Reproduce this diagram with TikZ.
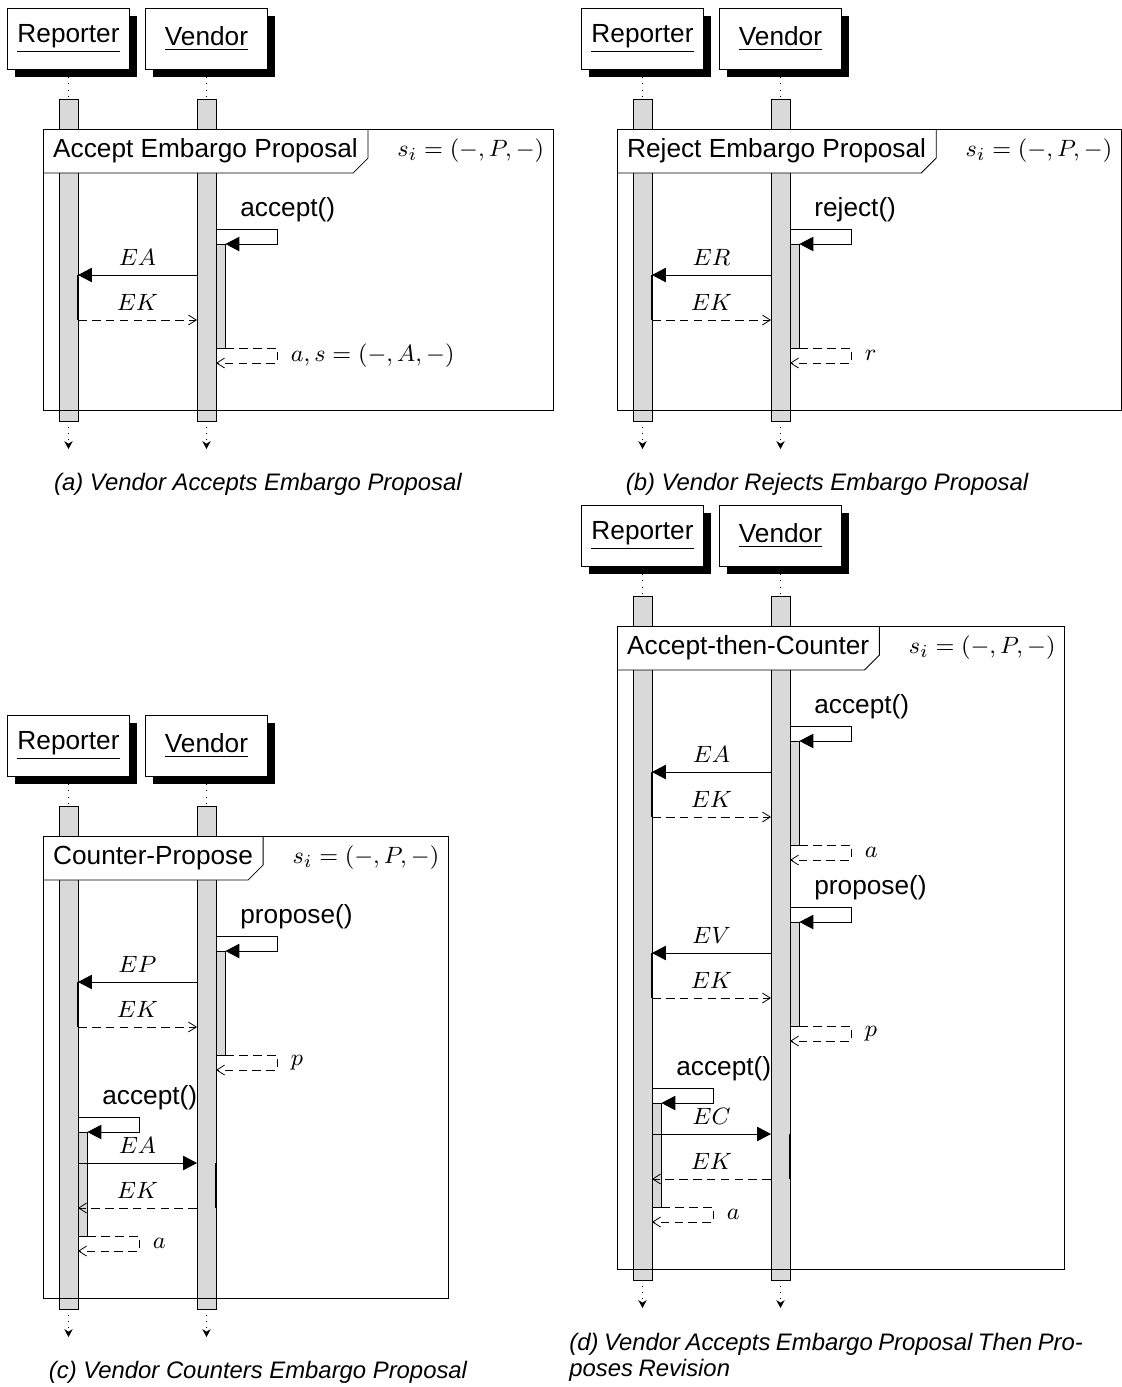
\documentclass[tikz,border=0pt]{standalone}
\usepackage{fontspec}
\setsansfont{Liberation Sans}
\usetikzlibrary{arrows.meta,calc,shadows}
\definecolor{barg}{gray}{0.85}
\tikzset{
  sans/.style={font=\fontsize{10}{12}\selectfont\sffamily},
  mth/.style={font=\fontsize{9.4}{11}\selectfont},
  headbox/.style={draw, fill=white, sans, minimum width=46.5pt, minimum height=23.3pt, inner sep=0pt,
    general shadow={fill=black, shadow xshift=2.86pt, shadow yshift=-3.05pt}},
  lifebar/.style={draw, fill=barg, minimum width=7.25pt, inner sep=0pt, outer sep=0pt},
  actblk/.style={draw, fill=barg, minimum width=3.6pt, minimum height=39.67pt, inner sep=0pt, outer sep=0pt},
  lifedot/.style={dotted},
  endtip/.style={-{Stealth[length=3pt,width=3.2pt]}},
  callarr/.style={-{Triangle[length=5.3pt,width=5.5pt]}},
  solidmsg/.style={-{Triangle[length=5.3pt,width=5.5pt]}},
  dashmsg/.style={dash pattern=on 3.3pt off 2pt, -{Straight Barb[length=3pt,width=3.8pt]}},
  recvedge/.style={line width=0.5pt},
  titlebox/.style={fill=white, sans, anchor=north west, minimum height=16.8pt, inner xsep=3.9pt, inner ysep=0pt, outer sep=0pt},
  capt/.style={font=\fontsize{9.1}{10}\selectfont\sffamily\itshape, inner sep=0pt},
  captd/.style={font={\fontsize{9.1}{10}\selectfont\sffamily\itshape\spaceskip 2.1pt\relax}, inner sep=0pt},
}
% #1 prefix, #2 title, #3 frame bottom (relative y)
\newcommand\seqpanel[3]{%
  \pgfmathsetmacro\barh{(#3+11-99)*0.3814}%
  \node[headbox] (#1rep) at (68.5,38.5) {\underline{Reporter}};
  \node[headbox] (#1ven) at (206.5,38.5) {\underline{Vendor}};
  \node[lifebar, minimum height=\barh pt, anchor=north] (#1rb) at (68.5,99) {};
  \node[lifebar, minimum height=\barh pt, anchor=north] (#1vb) at (206.5,99) {};
  \draw[lifedot] ($(#1rep.south)+(0,8)$) -- (#1rb.north);
  \draw[lifedot] ($(#1ven.south)+(0,8)$) -- (#1vb.north);
  \draw[lifedot, endtip] (#1rb.south) -- ++(0,28);
  \draw[lifedot, endtip] (#1vb.south) -- ++(0,28);
  \node[titlebox] (#1t) at (43,129) {#2};
  \node[mth, anchor=west, inner sep=0pt] (#1s) at ($(#1t.east)+(29,0)$) {$s_i = (-,P,-)$};
  \draw (43,129) rectangle ($(#1s.east |- 0,#3)+(9,0)$);
  \draw (#1t.north east) -- ($(#1t.south east)+(0,-15)$) -- ($(#1t.south east)+(-15,0)$) -- (#1t.south west);
}
% #1 block, #2 caller bar, #3 caller msg anchor, #4 other msg anchor, #5 T, #6 call label, #7 msg label, #8 return label, #9 receiver edge
\newcommand\callseq[9]{%
  \node[actblk, anchor=north west] (#1) at ($(#2.east |- 0,#5)+(0,15)$) {};
  \draw[callarr] (#2.east |- 0,#5) -- ++(61,0) -- ++(0,15) -- (#1.north east);
  \node[sans, anchor=west, inner sep=0pt] (#1l) at ($(#2.east |- 0,#5)+(24,-19)$) {#6};
  \draw[recvedge] ($(#9 |- 0,#5)+(0,46)$) -- ($(#9 |- 0,#5)+(0,91)$);
  \draw[solidmsg] ($(#3 |- 0,#5)+(0,46)$) -- ($(#4 |- 0,#5)+(0,46)$) node[mth, midway, above] (#1m) {$#7$};
  \draw[dashmsg] ($(#4 |- 0,#5)+(0,91)$) -- ($(#3 |- 0,#5)+(0,91)$) node[mth, midway, above] (#1k) {$EK$};
  \draw[dashmsg] (#1.south east) -- ++(52,0) -- ++(0,15) -- ($(#1.south west)+(0,15)$);
  \node[mth, anchor=west, inner sep=0pt] (#1r) at ($(#1.south east)+(65,7.5)$) {$#8$};
}
\begin{document}
\begin{tikzpicture}[x=0.3814pt, y=-0.3814pt, line width=0.3pt]
\useasboundingbox (0,0) rectangle (1122,1387);
% (a)
\begin{scope}
  \seqpanel{a}{Accept Embargo Proposal}{410}
  \callseq{ab1}{avb}{avb.west}{arb.east}{229}{accept()}{EA}{a, s = (-, A, -)}{arb.east}
\end{scope}
\node[capt] (capa) at (258,484) {(a) Vendor Accepts Embargo Proposal};
% (b)
\begin{scope}[shift={(574,0)}]
  \seqpanel{b}{Reject Embargo Proposal}{410}
  \callseq{bb1}{bvb}{bvb.west}{brb.east}{229}{reject()}{ER}{r}{brb.east}
\end{scope}
\node[capt] (capb) at (827,484) {(b) Vendor Rejects Embargo Proposal};
% (c)
\begin{scope}[shift={(0,707)}]
  \seqpanel{c}{Counter-Propose}{591}
  \callseq{cb1}{cvb}{cvb.west}{crb.east}{229}{propose()}{EP}{p}{crb.east}
  \callseq{cb2}{crb}{crb.east}{cvb.west}{410}{accept()}{EA}{a}{cvb.east}
\end{scope}
\node[capt] (capc) at (258,1372) {(c) Vendor Counters Embargo Proposal};
% (d)
\begin{scope}[shift={(574,497)}]
  \seqpanel{d}{Accept-then-Counter}{772}
  \callseq{db1}{dvb}{dvb.west}{drb.east}{229}{accept()}{EA}{a}{drb.east}
  \callseq{db2}{dvb}{dvb.west}{drb.east}{410}{propose()}{EV}{p}{drb.east}
  \callseq{db3}{drb}{drb.east}{dvb.west}{591}{accept()}{EC}{a}{dvb.east}
\end{scope}
\node[captd, align=left, anchor=west] (capd) at (569,1357) {(d) Vendor Accepts Embargo Proposal Then Pro-\\poses Revision};
\end{tikzpicture}
\end{document}
